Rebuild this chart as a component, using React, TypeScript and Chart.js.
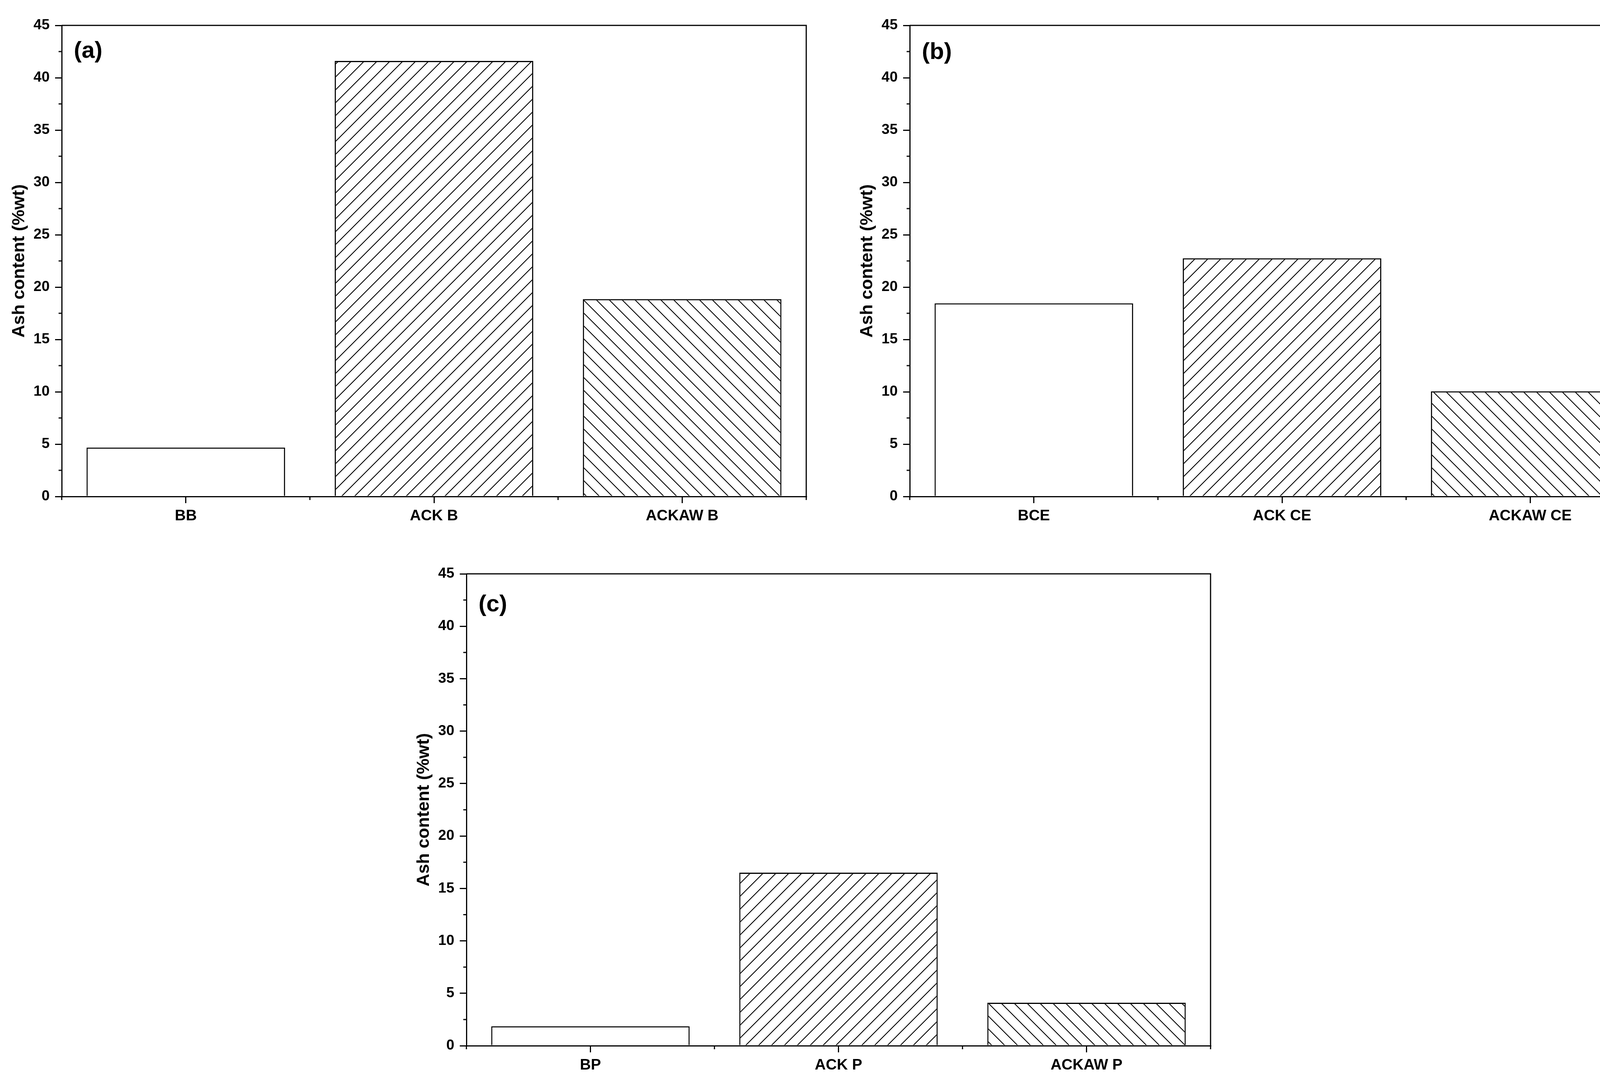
import React, { useEffect, useRef } from "react";
import { Chart, registerables, Plugin } from "chart.js";

Chart.register(...registerables);

const FONT = "'Liberation Sans', Arial, Helvetica, sans-serif";

// panel (a)
const categoriesA = ["BB", "ACK B", "ACKAW B"];
const valuesA = [4.67, 41.6, 18.85];
// panel (b)
const categoriesB = ["BCE", "ACK CE", "ACKAW CE"];
const valuesB = [18.45, 22.75, 10.05];
// panel (c)
const categoriesC = ["BP", "ACK P", "ACKAW P"];
const valuesC = [1.85, 16.5, 4.1];

// fill style per bar: plain, "/" hatch, "\" hatch
const fills = ["none", "forward", "backward"];

const yMin = 0;
const yMax = 45;
const yStep = 5;
const yMinorStep = 2.5;
const yTitle = "Ash content (%wt)";

const AXIS_W = 158;
const PAD_TOP = 65;
const PAD_RIGHT = 20;
const X_AXIS_H = 130;

function makeHatch(dir: string): CanvasPattern | string {
  if (dir === "none") return "#ffffff";
  const s = 33;
  const c = document.createElement("canvas");
  c.width = s;
  c.height = s;
  const g = c.getContext("2d");
  if (!g) return "#ffffff";
  g.fillStyle = "#ffffff";
  g.fillRect(0, 0, s, s);
  g.strokeStyle = "#000000";
  g.lineWidth = 2.2;
  g.beginPath();
  if (dir === "forward") {
    g.moveTo(-2, s + 2);
    g.lineTo(s + 2, -2);
    g.moveTo(-3, 3);
    g.lineTo(3, -3);
    g.moveTo(s - 3, s + 3);
    g.lineTo(s + 3, s - 3);
  } else {
    g.moveTo(-2, -2);
    g.lineTo(s + 2, s + 2);
    g.moveTo(s - 3, -3);
    g.lineTo(s + 3, 3);
    g.moveTo(-3, s - 3);
    g.lineTo(3, s + 3);
  }
  g.stroke();
  return g.createPattern(c, "repeat") || "#ffffff";
}

const decorPlugin = (tag: string, tagBase: number): Plugin<"bar"> => ({
  id: "decor",
  afterDraw(chart) {
    const { ctx, chartArea: a } = chart;
    const ys = chart.scales.y;
    const xs = chart.scales.x;
    ctx.save();
    ctx.strokeStyle = "#000";
    ctx.lineWidth = 3;
    // top and right frame
    ctx.beginPath();
    ctx.moveTo(a.left, a.top);
    ctx.lineTo(a.right, a.top);
    ctx.lineTo(a.right, a.bottom);
    ctx.stroke();
    // minor y ticks
    ctx.beginPath();
    for (let v = yMin + yMinorStep; v < yMax; v += yStep) {
      const p = ys.getPixelForValue(v);
      ctx.moveTo(a.left - 8, p);
      ctx.lineTo(a.left, p);
    }
    // minor x ticks on category boundaries
    const n = chart.data.labels ? chart.data.labels.length : 0;
    for (let i = 0; i <= n; i++) {
      const p = xs.getPixelForValue(i - 0.5);
      ctx.moveTo(p, a.bottom);
      ctx.lineTo(p, a.bottom + 9);
    }
    ctx.stroke();
    // panel tag
    ctx.fillStyle = "#000";
    ctx.font = `bold 60px ${FONT}`;
    ctx.textBaseline = "alphabetic";
    ctx.textAlign = "left";
    ctx.fillText(tag, a.left + 31, a.top + tagBase);
    ctx.restore();
  },
});

type PanelProps = {
  left: number;
  top: number;
  plotW: number;
  plotH: number;
  labels: string[];
  values: number[];
  tag: string;
  tagBase: number;
};

const Panel: React.FC<PanelProps> = ({ left, top, plotW, plotH, labels, values, tag, tagBase }) => {
  const canvasRef = useRef<HTMLCanvasElement | null>(null);
  const W = AXIS_W + plotW + PAD_RIGHT;
  const H = PAD_TOP + plotH + X_AXIS_H;

  useEffect(() => {
    if (!canvasRef.current) return;
    const ctx = canvasRef.current.getContext("2d");
    if (!ctx) return;

    const chart = new Chart(ctx, {
      type: "bar",
      data: {
        labels: labels,
        datasets: [
          {
            data: values,
            backgroundColor: fills.map((f) => makeHatch(f)),
            borderColor: "#000",
            borderWidth: 3,
            barPercentage: 0.8,
            categoryPercentage: 1,
          },
        ],
      },
      options: {
        responsive: false,
        animation: false,
        layout: { padding: { top: PAD_TOP, right: PAD_RIGHT, left: 0, bottom: 0 } },
        plugins: {
          legend: { display: false },
          tooltip: { enabled: false },
        },
        scales: {
          x: {
            afterFit: (s) => {
              s.height = X_AXIS_H;
            },
            border: { display: true, color: "#000", width: 3, z: 1 },
            grid: {
              display: true,
              offset: false,
              drawOnChartArea: false,
              tickLength: 17,
              tickWidth: 3,
              lineWidth: 3,
              tickColor: "#000",
              color: "#000",
            },
            ticks: {
              color: "#000",
              padding: 10,
              maxRotation: 0,
              autoSkip: false,
              font: { family: FONT, size: 39, weight: "bold" },
            },
          },
          y: {
            min: yMin,
            max: yMax,
            afterFit: (s) => {
              s.width = AXIS_W;
            },
            border: { display: true, color: "#000", width: 3, z: 1 },
            grid: {
              display: true,
              drawOnChartArea: false,
              tickLength: 17,
              tickWidth: 3,
              lineWidth: 3,
              tickColor: "#000",
              color: "#000",
            },
            ticks: {
              stepSize: yStep,
              color: "#000",
              padding: 14,
              font: { family: FONT, size: 37, weight: "bold" },
            },
            title: {
              display: true,
              text: yTitle,
              color: "#000",
              padding: { top: 23, bottom: 0 },
              font: { family: FONT, size: 45, weight: "bold" },
            },
          },
        },
      },
      plugins: [decorPlugin(tag, tagBase)],
    });

    return () => {
      chart.destroy();
    };
  }, []);

  return (
    <div style={{ position: "absolute", left: left - AXIS_W, top: top - PAD_TOP, width: W, height: H }}>
      <canvas ref={canvasRef} width={W} height={H} style={{ width: W, height: H, display: "block" }} />
    </div>
  );
};

export default function App() {
  return (
    <div
      style={{
        position: "absolute",
        left: 0,
        top: 0,
        width: 4270,
        height: 2775,
        background: "#ffffff",
        overflow: "hidden",
      }}
    >
      <Panel left={158} top={65} plotW={1906} plotH={1206} labels={categoriesA} values={valuesA} tag="(a)" tagBase={83} />
      <Panel left={2329} top={65} plotW={1906} plotH={1206} labels={categoriesB} values={valuesB} tag="(b)" tagBase={86} />
      <Panel left={1194} top={1469} plotW={1905} plotH={1208} labels={categoriesC} values={valuesC} tag="(c)" tagBase={96} />
    </div>
  );
}
